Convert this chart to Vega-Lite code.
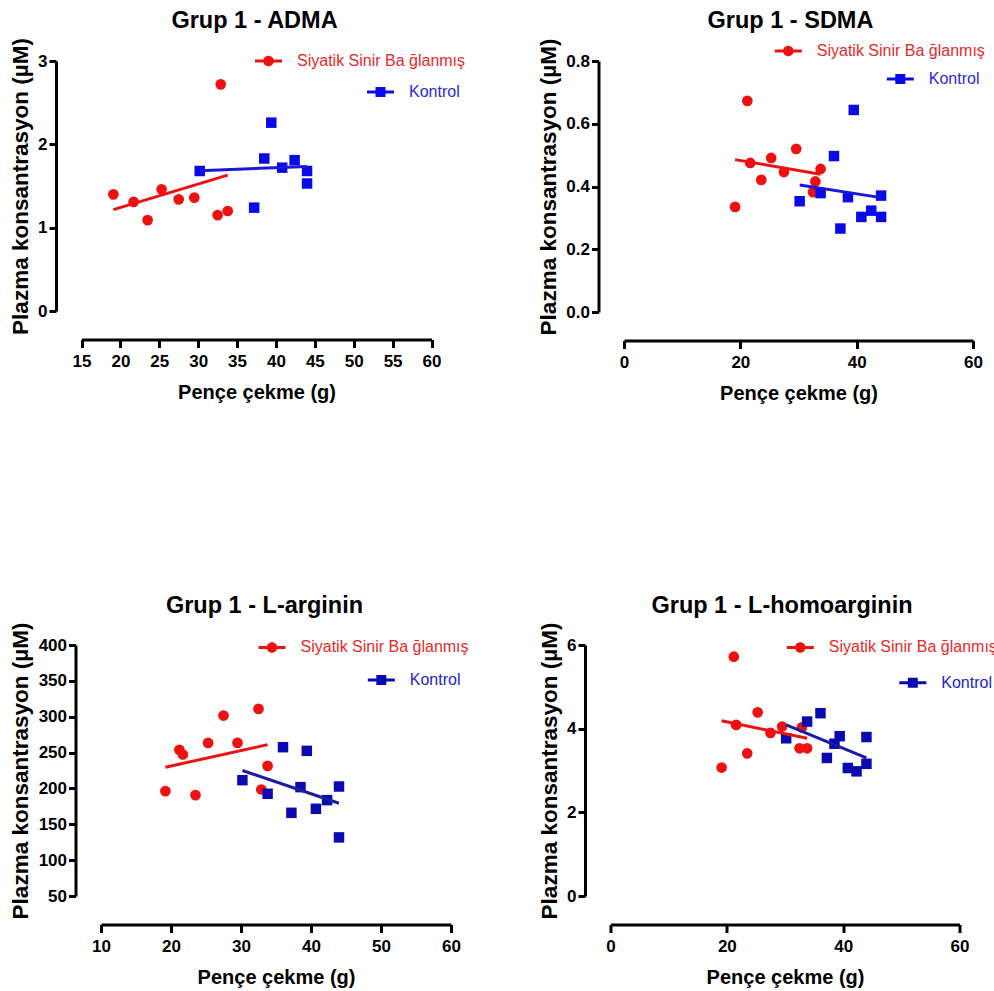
{
  "$schema": "https://vega.github.io/schema/vega-lite/v6.json",
  "background": "white",
  "padding": {"left": 9, "top": 9, "right": 0, "bottom": 0},
  "datasets": {
    "adma": [
      {"pence": 19.1, "konsantrasyon": 1.40, "grup": "Siyatik Sinir Ba ğlanmış"},
      {"pence": 21.7, "konsantrasyon": 1.31, "grup": "Siyatik Sinir Ba ğlanmış"},
      {"pence": 23.5, "konsantrasyon": 1.09, "grup": "Siyatik Sinir Ba ğlanmış"},
      {"pence": 25.3, "konsantrasyon": 1.46, "grup": "Siyatik Sinir Ba ğlanmış"},
      {"pence": 27.5, "konsantrasyon": 1.34, "grup": "Siyatik Sinir Ba ğlanmış"},
      {"pence": 29.5, "konsantrasyon": 1.36, "grup": "Siyatik Sinir Ba ğlanmış"},
      {"pence": 32.9, "konsantrasyon": 2.72, "grup": "Siyatik Sinir Ba ğlanmış"},
      {"pence": 32.5, "konsantrasyon": 1.15, "grup": "Siyatik Sinir Ba ğlanmış"},
      {"pence": 33.8, "konsantrasyon": 1.20, "grup": "Siyatik Sinir Ba ğlanmış"},
      {"pence": 30.2, "konsantrasyon": 1.68, "grup": "Kontrol"},
      {"pence": 37.2, "konsantrasyon": 1.24, "grup": "Kontrol"},
      {"pence": 38.5, "konsantrasyon": 1.83, "grup": "Kontrol"},
      {"pence": 39.4, "konsantrasyon": 2.26, "grup": "Kontrol"},
      {"pence": 40.8, "konsantrasyon": 1.72, "grup": "Kontrol"},
      {"pence": 42.4, "konsantrasyon": 1.81, "grup": "Kontrol"},
      {"pence": 44.0, "konsantrasyon": 1.68, "grup": "Kontrol"},
      {"pence": 44.0, "konsantrasyon": 1.53, "grup": "Kontrol"}
    ],
    "sdma": [
      {"pence": 21.2, "konsantrasyon": 0.673, "grup": "Siyatik Sinir Ba ğlanmış"},
      {"pence": 19.1, "konsantrasyon": 0.335, "grup": "Siyatik Sinir Ba ğlanmış"},
      {"pence": 21.7, "konsantrasyon": 0.475, "grup": "Siyatik Sinir Ba ğlanmış"},
      {"pence": 23.6, "konsantrasyon": 0.421, "grup": "Siyatik Sinir Ba ğlanmış"},
      {"pence": 25.3, "konsantrasyon": 0.491, "grup": "Siyatik Sinir Ba ğlanmış"},
      {"pence": 27.5, "konsantrasyon": 0.446, "grup": "Siyatik Sinir Ba ğlanmış"},
      {"pence": 29.6, "konsantrasyon": 0.520, "grup": "Siyatik Sinir Ba ğlanmış"},
      {"pence": 32.9, "konsantrasyon": 0.416, "grup": "Siyatik Sinir Ba ğlanmış"},
      {"pence": 32.5, "konsantrasyon": 0.382, "grup": "Siyatik Sinir Ba ğlanmış"},
      {"pence": 33.8, "konsantrasyon": 0.456, "grup": "Siyatik Sinir Ba ğlanmış"},
      {"pence": 30.2, "konsantrasyon": 0.353, "grup": "Kontrol"},
      {"pence": 33.8, "konsantrasyon": 0.379, "grup": "Kontrol"},
      {"pence": 36.1, "konsantrasyon": 0.497, "grup": "Kontrol"},
      {"pence": 37.2, "konsantrasyon": 0.266, "grup": "Kontrol"},
      {"pence": 38.5, "konsantrasyon": 0.366, "grup": "Kontrol"},
      {"pence": 39.5, "konsantrasyon": 0.644, "grup": "Kontrol"},
      {"pence": 40.8, "konsantrasyon": 0.303, "grup": "Kontrol"},
      {"pence": 42.5, "konsantrasyon": 0.323, "grup": "Kontrol"},
      {"pence": 44.2, "konsantrasyon": 0.303, "grup": "Kontrol"},
      {"pence": 44.2, "konsantrasyon": 0.371, "grup": "Kontrol"}
    ],
    "larg": [
      {"pence": 19.2, "konsantrasyon": 196.2, "grup": "Siyatik Sinir Ba ğlanmış"},
      {"pence": 21.2, "konsantrasyon": 253.8, "grup": "Siyatik Sinir Ba ğlanmış"},
      {"pence": 21.7, "konsantrasyon": 247.3, "grup": "Siyatik Sinir Ba ğlanmış"},
      {"pence": 23.5, "konsantrasyon": 190.7, "grup": "Siyatik Sinir Ba ğlanmış"},
      {"pence": 25.3, "konsantrasyon": 263.5, "grup": "Siyatik Sinir Ba ğlanmış"},
      {"pence": 27.5, "konsantrasyon": 301.6, "grup": "Siyatik Sinir Ba ğlanmış"},
      {"pence": 29.5, "konsantrasyon": 263.5, "grup": "Siyatik Sinir Ba ğlanmış"},
      {"pence": 32.5, "konsantrasyon": 310.9, "grup": "Siyatik Sinir Ba ğlanmış"},
      {"pence": 32.9, "konsantrasyon": 198.5, "grup": "Siyatik Sinir Ba ğlanmış"},
      {"pence": 33.8, "konsantrasyon": 231.5, "grup": "Siyatik Sinir Ba ğlanmış"},
      {"pence": 30.2, "konsantrasyon": 211.5, "grup": "Kontrol"},
      {"pence": 33.8, "konsantrasyon": 192.5, "grup": "Kontrol"},
      {"pence": 36.0, "konsantrasyon": 257.5, "grup": "Kontrol"},
      {"pence": 37.2, "konsantrasyon": 166.0, "grup": "Kontrol"},
      {"pence": 38.5, "konsantrasyon": 201.8, "grup": "Kontrol"},
      {"pence": 39.4, "konsantrasyon": 252.4, "grup": "Kontrol"},
      {"pence": 40.7, "konsantrasyon": 171.6, "grup": "Kontrol"},
      {"pence": 42.3, "konsantrasyon": 183.7, "grup": "Kontrol"},
      {"pence": 44.0, "konsantrasyon": 202.7, "grup": "Kontrol"},
      {"pence": 44.0, "konsantrasyon": 131.7, "grup": "Kontrol"}
    ],
    "lhomo": [
      {"pence": 19.1, "konsantrasyon": 3.07, "grup": "Siyatik Sinir Ba ğlanmış"},
      {"pence": 21.2, "konsantrasyon": 5.72, "grup": "Siyatik Sinir Ba ğlanmış"},
      {"pence": 21.6, "konsantrasyon": 4.09, "grup": "Siyatik Sinir Ba ğlanmış"},
      {"pence": 23.5, "konsantrasyon": 3.41, "grup": "Siyatik Sinir Ba ğlanmış"},
      {"pence": 25.3, "konsantrasyon": 4.39, "grup": "Siyatik Sinir Ba ğlanmış"},
      {"pence": 27.5, "konsantrasyon": 3.90, "grup": "Siyatik Sinir Ba ğlanmış"},
      {"pence": 29.5, "konsantrasyon": 4.05, "grup": "Siyatik Sinir Ba ğlanmış"},
      {"pence": 32.9, "konsantrasyon": 4.03, "grup": "Siyatik Sinir Ba ğlanmış"},
      {"pence": 32.5, "konsantrasyon": 3.53, "grup": "Siyatik Sinir Ba ğlanmış"},
      {"pence": 33.8, "konsantrasyon": 3.53, "grup": "Siyatik Sinir Ba ğlanmış"},
      {"pence": 30.2, "konsantrasyon": 3.77, "grup": "Kontrol"},
      {"pence": 33.8, "konsantrasyon": 4.17, "grup": "Kontrol"},
      {"pence": 36.1, "konsantrasyon": 4.37, "grup": "Kontrol"},
      {"pence": 37.2, "konsantrasyon": 3.30, "grup": "Kontrol"},
      {"pence": 38.5, "konsantrasyon": 3.64, "grup": "Kontrol"},
      {"pence": 39.4, "konsantrasyon": 3.82, "grup": "Kontrol"},
      {"pence": 40.8, "konsantrasyon": 3.06, "grup": "Kontrol"},
      {"pence": 42.3, "konsantrasyon": 2.98, "grup": "Kontrol"},
      {"pence": 44.0, "konsantrasyon": 3.80, "grup": "Kontrol"},
      {"pence": 44.0, "konsantrasyon": 3.16, "grup": "Kontrol"}
    ]
  },
  "config": {
    "view": {"stroke": null},
    "font": "Liberation Sans",
    "title": {"font": "Liberation Sans", "fontSize": 23.5, "fontWeight": "bold", "color": "black", "anchor": "middle", "frame": "group", "baseline": "alphabetic", "offset": 5},
    "axis": {"domainColor": "black", "domainWidth": 3, "tickColor": "black", "tickWidth": 3, "labelFont": "Liberation Sans", "labelFontWeight": "bold", "labelFontSize": 17, "labelColor": "black", "titleFont": "Liberation Sans", "titleFontWeight": "bold", "titleColor": "black", "grid": false, "labelFlush": false, "labelOverlap": false},
    "axisX": {"offset": 28.5, "tickSize": 8, "labelPadding": 6, "titleFontSize": 20, "titlePadding": 13},
    "axisY": {"offset": 25.5, "tickSize": 7, "labelPadding": 2, "titleFontSize": 22.5, "titlePadding": 5.5},
    "legend": {"padding": 0, "labelFont": "Liberation Sans", "labelFontSize": 16, "labelLimit": 400, "labelOffset": 15, "symbolSize": 729, "symbolStrokeWidth": 0}
  },
  "resolve": {"scale": {"color": "independent", "stroke": "independent"}},
  "align": "none",
  "spacing": 189,
  "vconcat": [
    {
      "spacing": 71,
      "resolve": {"scale": {"color": "independent", "stroke": "independent"}},
      "hconcat": [
        {
          "width": 330.5, "height": 250,
          "title": {"text": "Grup 1 - ADMA", "dx": -11.75},
          "data": {"name": "adma"},
          "encoding": {
            "x": {"field": "pence", "type": "quantitative", "scale": {"domain": [15, 60], "zero": false, "nice": false, "rangeMin": -19.5}, "axis": {"values": [15, 20, 25, 30, 35, 40, 45, 50, 55, 60], "format": "d", "title": "Pençe çekme (g)", "titleX": 155.5}},
            "y": {"field": "konsantrasyon", "type": "quantitative", "scale": {"domain": [0, 3], "nice": false}, "axis": {"values": [0, 1, 2, 3], "format": "d", "offset": 45, "title": "Plazma konsantrasyon (µM)"}}
          },
          "layer": [
            {
              "transform": [{"filter": {"field": "grup", "equal": "Siyatik Sinir Ba ğlanmış"}}],
              "mark": {"type": "circle", "size": 115, "opacity": 1},
              "encoding": {
                "color": {"field": "grup", "type": "nominal", "scale": {"domain": ["Siyatik Sinir Ba ğlanmış", "Kontrol"], "range": ["#ee1111", "#0a0ae6"]},
                  "legend": {"title": null, "values": ["Siyatik Sinir Ba ğlanmış"], "orient": "none", "legendX": 154, "legendY": -13.5, "labelColor": "#e52a2a", "symbolType": "M-1,-0.11H1V0.11H-1Z M-0.39,0A0.39,0.39 0 1,1 0.39,0A0.39,0.39 0 1,1 -0.39,0Z",
                    "encode": {"symbols": {"update": {"fill": {"value": "#ee1111"}, "opacity": {"value": 1}, "shape": {"value": "M-1,-0.11H1V0.11H-1Z M-0.39,0A0.39,0.39 0 1,1 0.39,0A0.39,0.39 0 1,1 -0.39,0Z"}}}}}}
              }
            },
            {
              "transform": [{"filter": {"field": "grup", "equal": "Kontrol"}}],
              "mark": {"type": "square", "size": 110, "opacity": 1},
              "encoding": {
                "color": {"field": "grup", "type": "nominal", "scale": {"domain": ["Siyatik Sinir Ba ğlanmış", "Kontrol"], "range": ["#ee1111", "#0a0ae6"]},
                  "legend": {"title": null, "values": ["Siyatik Sinir Ba ğlanmış"], "orient": "none", "legendX": 154, "legendY": -13.5, "labelColor": "#e52a2a", "symbolType": "M-1,-0.11H1V0.11H-1Z M-0.39,0A0.39,0.39 0 1,1 0.39,0A0.39,0.39 0 1,1 -0.39,0Z",
                    "encode": {"symbols": {"update": {"fill": {"value": "#ee1111"}, "opacity": {"value": 1}, "shape": {"value": "M-1,-0.11H1V0.11H-1Z M-0.39,0A0.39,0.39 0 1,1 0.39,0A0.39,0.39 0 1,1 -0.39,0Z"}}}}}}
              }
            },
            {
              "transform": [{"regression": "konsantrasyon", "on": "pence", "groupby": ["grup"]}],
              "mark": {"type": "line", "strokeWidth": 3},
              "encoding": {
                "stroke": {"field": "grup", "type": "nominal", "scale": {"domain": ["Kontrol", "Siyatik Sinir Ba ğlanmış"], "range": ["#1818d8", "#ee1111"]},
                  "legend": {"title": null, "values": ["Kontrol"], "orient": "none", "legendX": 266, "legendY": 17.5, "labelColor": "#2a2ad8", "symbolType": "M-1,-0.11H1V0.11H-1Z M-0.37,-0.37H0.37V0.37H-0.37Z",
                    "encode": {"symbols": {"update": {"fill": {"value": "#0a0ae6"}, "strokeWidth": {"value": 0}, "opacity": {"value": 1}, "shape": {"value": "M-1,-0.11H1V0.11H-1Z M-0.37,-0.37H0.37V0.37H-0.37Z"}}}}}}
              }
            }
          ]
        },
        {
          "width": 349, "height": 251,
          "title": {"text": "Grup 1 - SDMA", "dx": -8},
          "data": {"name": "sdma"},
          "encoding": {
            "x": {"field": "pence", "type": "quantitative", "scale": {"domain": [0, 60], "nice": false}, "axis": {"values": [0, 20, 40, 60], "format": "d", "title": "Pençe çekme (g)"}},
            "y": {"field": "konsantrasyon", "type": "quantitative", "scale": {"domain": [0, 0.8], "nice": false}, "axis": {"values": [0, 0.2, 0.4, 0.6, 0.8], "format": ".1f", "title": "Plazma konsantrasyon (µM)"}}
          },
          "layer": [
            {
              "transform": [{"filter": {"field": "grup", "equal": "Siyatik Sinir Ba ğlanmış"}}],
              "mark": {"type": "circle", "size": 115, "opacity": 1},
              "encoding": {
                "color": {"field": "grup", "type": "nominal", "scale": {"domain": ["Siyatik Sinir Ba ğlanmış", "Kontrol"], "range": ["#ee1111", "#0a0ae6"]},
                  "legend": {"title": null, "values": ["Siyatik Sinir Ba ğlanmış"], "orient": "none", "legendX": 150.8, "legendY": -23.5, "labelColor": "#e52a2a", "symbolType": "M-1,-0.11H1V0.11H-1Z M-0.39,0A0.39,0.39 0 1,1 0.39,0A0.39,0.39 0 1,1 -0.39,0Z",
                    "encode": {"symbols": {"update": {"fill": {"value": "#ee1111"}, "opacity": {"value": 1}, "shape": {"value": "M-1,-0.11H1V0.11H-1Z M-0.39,0A0.39,0.39 0 1,1 0.39,0A0.39,0.39 0 1,1 -0.39,0Z"}}}}}}
              }
            },
            {
              "transform": [{"filter": {"field": "grup", "equal": "Kontrol"}}],
              "mark": {"type": "square", "size": 110, "opacity": 1},
              "encoding": {
                "color": {"field": "grup", "type": "nominal", "scale": {"domain": ["Siyatik Sinir Ba ğlanmış", "Kontrol"], "range": ["#ee1111", "#0a0ae6"]},
                  "legend": {"title": null, "values": ["Siyatik Sinir Ba ğlanmış"], "orient": "none", "legendX": 150.8, "legendY": -23.5, "labelColor": "#e52a2a", "symbolType": "M-1,-0.11H1V0.11H-1Z M-0.39,0A0.39,0.39 0 1,1 0.39,0A0.39,0.39 0 1,1 -0.39,0Z",
                    "encode": {"symbols": {"update": {"fill": {"value": "#ee1111"}, "opacity": {"value": 1}, "shape": {"value": "M-1,-0.11H1V0.11H-1Z M-0.39,0A0.39,0.39 0 1,1 0.39,0A0.39,0.39 0 1,1 -0.39,0Z"}}}}}}
              }
            },
            {
              "transform": [{"regression": "konsantrasyon", "on": "pence", "groupby": ["grup"]}],
              "mark": {"type": "line", "strokeWidth": 3},
              "encoding": {
                "stroke": {"field": "grup", "type": "nominal", "scale": {"domain": ["Kontrol", "Siyatik Sinir Ba ğlanmış"], "range": ["#1818d8", "#ee1111"]},
                  "legend": {"title": null, "values": ["Kontrol"], "orient": "none", "legendX": 262.8, "legendY": 4.5, "labelColor": "#2a2ad8", "symbolType": "M-1,-0.11H1V0.11H-1Z M-0.37,-0.37H0.37V0.37H-0.37Z",
                    "encode": {"symbols": {"update": {"fill": {"value": "#0a0ae6"}, "strokeWidth": {"value": 0}, "opacity": {"value": 1}, "shape": {"value": "M-1,-0.11H1V0.11H-1Z M-0.37,-0.37H0.37V0.37H-0.37Z"}}}}}}
              }
            }
          ]
        }
      ]
    },
    {
      "spacing": 67.5,
      "resolve": {"scale": {"color": "independent", "stroke": "independent"}},
      "hconcat": [
        {
          "width": 350, "height": 251,
          "title": {"text": "Grup 1 - L-arginin", "dx": -11.5},
          "data": {"name": "larg"},
          "encoding": {
            "x": {"field": "pence", "type": "quantitative", "scale": {"domain": [10, 60], "zero": false, "nice": false}, "axis": {"values": [10, 20, 30, 40, 50, 60], "format": "d", "title": "Pençe çekme (g)"}},
            "y": {"field": "konsantrasyon", "type": "quantitative", "scale": {"domain": [50, 400], "zero": false, "nice": false}, "axis": {"values": [50, 100, 150, 200, 250, 300, 350, 400], "format": "d", "title": "Plazma konsantrasyon (µM)"}}
          },
          "layer": [
            {
              "transform": [{"filter": {"field": "grup", "equal": "Siyatik Sinir Ba ğlanmış"}}],
              "mark": {"type": "circle", "size": 115, "opacity": 1},
              "encoding": {
                "color": {"field": "grup", "type": "nominal", "scale": {"domain": ["Siyatik Sinir Ba ğlanmış", "Kontrol"], "range": ["#ee1111", "#0a0ab0"]},
                  "legend": {"title": null, "values": ["Siyatik Sinir Ba ğlanmış"], "orient": "none", "legendX": 157.5, "legendY": -11.1, "labelColor": "#e52a2a", "symbolType": "M-1,-0.11H1V0.11H-1Z M-0.39,0A0.39,0.39 0 1,1 0.39,0A0.39,0.39 0 1,1 -0.39,0Z",
                    "encode": {"symbols": {"update": {"fill": {"value": "#ee1111"}, "opacity": {"value": 1}, "shape": {"value": "M-1,-0.11H1V0.11H-1Z M-0.39,0A0.39,0.39 0 1,1 0.39,0A0.39,0.39 0 1,1 -0.39,0Z"}}}}}}
              }
            },
            {
              "transform": [{"filter": {"field": "grup", "equal": "Kontrol"}}],
              "mark": {"type": "square", "size": 110, "opacity": 1},
              "encoding": {
                "color": {"field": "grup", "type": "nominal", "scale": {"domain": ["Siyatik Sinir Ba ğlanmış", "Kontrol"], "range": ["#ee1111", "#0a0ab0"]},
                  "legend": {"title": null, "values": ["Siyatik Sinir Ba ğlanmış"], "orient": "none", "legendX": 157.5, "legendY": -11.1, "labelColor": "#e52a2a", "symbolType": "M-1,-0.11H1V0.11H-1Z M-0.39,0A0.39,0.39 0 1,1 0.39,0A0.39,0.39 0 1,1 -0.39,0Z",
                    "encode": {"symbols": {"update": {"fill": {"value": "#ee1111"}, "opacity": {"value": 1}, "shape": {"value": "M-1,-0.11H1V0.11H-1Z M-0.39,0A0.39,0.39 0 1,1 0.39,0A0.39,0.39 0 1,1 -0.39,0Z"}}}}}}
              }
            },
            {
              "transform": [{"regression": "konsantrasyon", "on": "pence", "groupby": ["grup"]}],
              "mark": {"type": "line", "strokeWidth": 3},
              "encoding": {
                "stroke": {"field": "grup", "type": "nominal", "scale": {"domain": ["Kontrol", "Siyatik Sinir Ba ğlanmış"], "range": ["#1c1ca0", "#ee1111"]},
                  "legend": {"title": null, "values": ["Kontrol"], "orient": "none", "legendX": 266.8, "legendY": 21.5, "labelColor": "#2424c8", "symbolType": "M-1,-0.11H1V0.11H-1Z M-0.37,-0.37H0.37V0.37H-0.37Z",
                    "encode": {"symbols": {"update": {"fill": {"value": "#0a0ab0"}, "strokeWidth": {"value": 0}, "opacity": {"value": 1}, "shape": {"value": "M-1,-0.11H1V0.11H-1Z M-0.37,-0.37H0.37V0.37H-0.37Z"}}}}}}
              }
            }
          ]
        },
        {
          "width": 349, "height": 251,
          "title": {"text": "Grup 1 - L-homoarginin", "dx": -3},
          "data": {"name": "lhomo"},
          "encoding": {
            "x": {"field": "pence", "type": "quantitative", "scale": {"domain": [0, 60], "nice": false}, "axis": {"values": [0, 20, 40, 60], "format": "d", "title": "Pençe çekme (g)"}},
            "y": {"field": "konsantrasyon", "type": "quantitative", "scale": {"domain": [0, 6], "nice": false}, "axis": {"values": [0, 2, 4, 6], "format": "d", "title": "Plazma konsantrasyon (µM)"}}
          },
          "layer": [
            {
              "transform": [{"filter": {"field": "grup", "equal": "Siyatik Sinir Ba ğlanmış"}}],
              "mark": {"type": "circle", "size": 115, "opacity": 1},
              "encoding": {
                "color": {"field": "grup", "type": "nominal", "scale": {"domain": ["Siyatik Sinir Ba ğlanmış", "Kontrol"], "range": ["#ee1111", "#0a0ab0"]},
                  "legend": {"title": null, "values": ["Siyatik Sinir Ba ğlanmış"], "orient": "none", "legendX": 176.3, "legendY": -11.1, "labelColor": "#e52a2a", "symbolType": "M-1,-0.11H1V0.11H-1Z M-0.39,0A0.39,0.39 0 1,1 0.39,0A0.39,0.39 0 1,1 -0.39,0Z",
                    "encode": {"symbols": {"update": {"fill": {"value": "#ee1111"}, "opacity": {"value": 1}, "shape": {"value": "M-1,-0.11H1V0.11H-1Z M-0.39,0A0.39,0.39 0 1,1 0.39,0A0.39,0.39 0 1,1 -0.39,0Z"}}}}}}
              }
            },
            {
              "transform": [{"filter": {"field": "grup", "equal": "Kontrol"}}],
              "mark": {"type": "square", "size": 110, "opacity": 1},
              "encoding": {
                "color": {"field": "grup", "type": "nominal", "scale": {"domain": ["Siyatik Sinir Ba ğlanmış", "Kontrol"], "range": ["#ee1111", "#0a0ab0"]},
                  "legend": {"title": null, "values": ["Siyatik Sinir Ba ğlanmış"], "orient": "none", "legendX": 176.3, "legendY": -11.1, "labelColor": "#e52a2a", "symbolType": "M-1,-0.11H1V0.11H-1Z M-0.39,0A0.39,0.39 0 1,1 0.39,0A0.39,0.39 0 1,1 -0.39,0Z",
                    "encode": {"symbols": {"update": {"fill": {"value": "#ee1111"}, "opacity": {"value": 1}, "shape": {"value": "M-1,-0.11H1V0.11H-1Z M-0.39,0A0.39,0.39 0 1,1 0.39,0A0.39,0.39 0 1,1 -0.39,0Z"}}}}}}
              }
            },
            {
              "transform": [{"regression": "konsantrasyon", "on": "pence", "groupby": ["grup"]}],
              "mark": {"type": "line", "strokeWidth": 3},
              "encoding": {
                "stroke": {"field": "grup", "type": "nominal", "scale": {"domain": ["Kontrol", "Siyatik Sinir Ba ğlanmış"], "range": ["#1c1ca0", "#ee1111"]},
                  "legend": {"title": null, "values": ["Kontrol"], "orient": "none", "legendX": 288.8, "legendY": 24.2, "labelColor": "#2424c8", "symbolType": "M-1,-0.11H1V0.11H-1Z M-0.37,-0.37H0.37V0.37H-0.37Z",
                    "encode": {"symbols": {"update": {"fill": {"value": "#0a0ab0"}, "strokeWidth": {"value": 0}, "opacity": {"value": 1}, "shape": {"value": "M-1,-0.11H1V0.11H-1Z M-0.37,-0.37H0.37V0.37H-0.37Z"}}}}}}
              }
            }
          ]
        }
      ]
    }
  ]
}
